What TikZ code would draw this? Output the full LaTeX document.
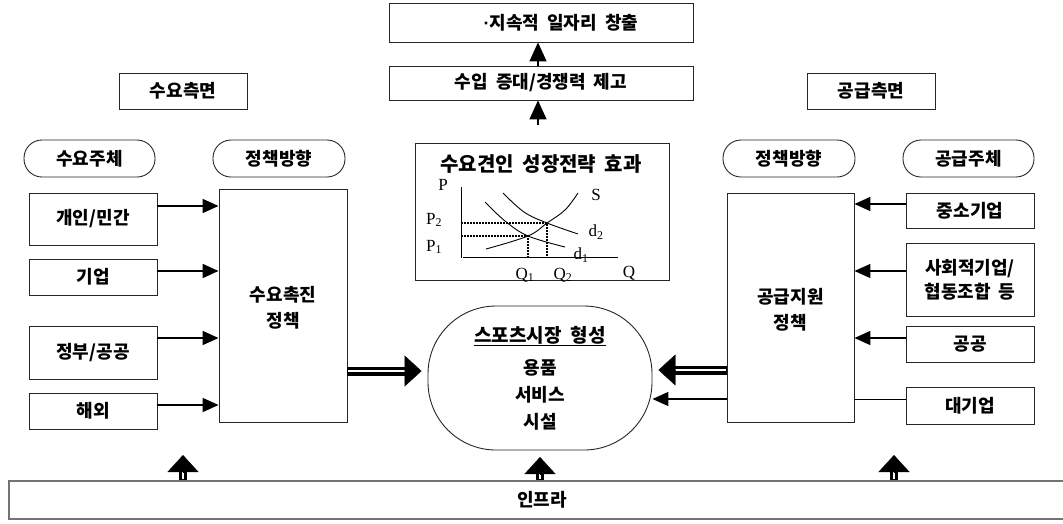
\documentclass[tikz,border=0pt]{standalone}
\usepackage{fontspec}
\setmainfont{Noto Sans CJK KR}
\newfontfamily\kr{Noto Sans CJK KR}
\newfontfamily\gser{Liberation Serif}
\newfontfamily\lsans{Liberation Sans}
\usetikzlibrary{arrows.meta,calc}
\tikzset{
  box/.style={draw=black!85, line width=0.9pt, inner sep=0pt, font=\kr\bfseries\fontsize{18}{21}\selectfont, align=center},
  pill/.style={box, rounded corners=18pt},
  arr/.style={line width=1.7pt, -{Triangle[length=16pt,width=14pt]}},
  bighead/.style={line width=0.4pt, -{Triangle[length=17pt,width=31pt]}},
  uarr/.style={line width=1.7pt, -{Triangle[length=19pt,width=17pt]}},
  lbl/.style={inner sep=0pt, font=\gser\fontsize{17}{19}\selectfont},
}
% #1 from, #2 to (tip), #3 total shaft width, #4 gap
\newcommand\dblarrow[4]{%
  \draw[line width=#3, shorten >=15pt] (#1) -- (#2);
  \draw[white, line width=#4, shorten >=12pt, shorten <=1pt] (#1) -- (#2);
  \draw[bighead] ($(#2)!17pt!(#1)$) -- (#2);
}
\begin{document}
\begin{tikzpicture}[x=1pt,y=-1pt]
\useasboundingbox (0,0) rectangle (1063,523);
% top boxes
\node[box, minimum width=304pt, minimum height=39pt] (top1) at (541,22.5) {\hspace*{40pt}{\lsans\bfseries·}지속적\hspace{4pt} 일자리\hspace{4pt} 창출};
\node[box, minimum width=304pt, minimum height=34pt] (top2) at (541,83) {수입\hspace{4pt} 증대/경쟁력\hspace{4pt} 제고};
\coordinate (tail) at (538,125);
\draw[uarr] (tail) -- (tail |- top2.south);
\draw[uarr] (tail |- top2.north) -- (tail |- top1.south);
% graph box
\node[box, minimum width=254pt, minimum height=137pt] (g) at (542,211.5) {};
\node[inner sep=0pt, font=\kr\bfseries\fontsize{20}{23}\selectfont] (gt) at (541,164) {수요견인\hspace{4pt} 성장전략\hspace{4pt} 효과};
\draw[line width=0.9pt] (461,187) -- (461,258);
\draw[line width=0.9pt] (463,257) -- (618,257);
\draw[line width=1.3pt, dash pattern=on 2pt off 1pt] (461,223) -- (547,223) -- (547,257);
\draw[line width=1.3pt, dash pattern=on 2pt off 1pt] (461,236) -- (528,236) -- (528,257);
\draw[line width=0.9pt] plot[smooth, tension=0.6] coordinates {(486,249) (528,236) (547,223) (565,210) (578,193)};
\draw[line width=0.9pt] plot[smooth, tension=0.6] coordinates {(485,202) (505,221) (528,236) (565,247)};
\draw[line width=0.9pt] plot[smooth, tension=0.6] coordinates {(503,193) (524,212) (547,223) (578,234)};
\node[lbl] (lP) at (443,185) {P};
\node[lbl] (lP2) at (434,220) {P\textsubscript{2}};
\node[lbl] (lP1) at (434,247) {P\textsubscript{1}};
\node[lbl] (lS) at (596,195) {S};
\node[lbl] (ld2) at (596,232) {d\textsubscript{2}};
\node[lbl] (ld1) at (581,255) {d\textsubscript{1}};
\node[lbl] (lQ1) at (525,275) {Q\textsubscript{1}};
\node[lbl] (lQ2) at (563,275) {Q\textsubscript{2}};
\node[lbl] (lQ) at (629,273) {Q};
% side labels
\node[box, minimum width=128pt, minimum height=36pt] (dside) at (183,91) {수요측면};
\node[box, minimum width=128pt, minimum height=36pt] (sside) at (871,91) {공급측면};
\node[pill, minimum width=131pt, minimum height=37pt] (dsubj) at (89.5,158.5) {수요주체};
\node[pill, minimum width=132pt, minimum height=37pt] (dpol) at (279,158.5) {정책방향};
\node[pill, minimum width=132pt, minimum height=37pt] (spol) at (789,158.5) {정책방향};
\node[pill, minimum width=131pt, minimum height=37pt] (ssubj) at (968.5,158.5) {공급주체};
% left items
\node[box, minimum width=128pt, minimum height=52pt] (d1) at (93,219) {개인/민간};
\node[box, minimum width=128pt, minimum height=36pt] (d2) at (93,277) {기업};
\node[box, minimum width=128pt, minimum height=53pt] (d3) at (93,352.5) {정부/공공};
\node[box, minimum width=128pt, minimum height=36pt] (d4) at (93,411) {해외};
\node[box, minimum width=128pt, minimum height=233pt] (lp) at (283,305.5) {\\[-2pt]수요촉진\\[5pt]정책};
% right items
\node[box, minimum width=128pt, minimum height=35pt] (s1) at (970,210.5) {중소기업};
\node[box, minimum width=128pt, minimum height=73pt] (s2) at (970,279.5) {사회적기업/\\[3pt]협동조합\hspace{4pt} 등};
\node[box, minimum width=128pt, minimum height=36pt] (s3) at (970,344) {공공};
\node[box, minimum width=128pt, minimum height=37pt] (s4) at (970,405.5) {대기업};
\node[box, minimum width=127pt, minimum height=229pt] (rp) at (790.5,307.5) {\\[-2pt]공급지원\\[5pt]정책};
% market
\node[box, rounded corners=68pt, minimum width=224pt, minimum height=144pt] (m) at (540,378) {{\fontsize{19}{21}\selectfont\underline{스포츠시장\hspace{5pt} 형성}}\\[11pt]용품\\[6pt]서비스\\[6pt]시설};
% infra
\node[box, draw=black!55, line width=1.6pt, minimum width=1066pt, minimum height=38pt] (inf) at (542,500) {인프라};
% left arrows
\coordinate (a1) at ($(d1.east)+(0,-13)$);
\coordinate (a2) at ($(d2.east)+(0,-6)$);
\coordinate (a3) at ($(d3.east)+(0,-14.5)$);
\coordinate (a4) at ($(d4.east)+(0,-6)$);
\foreach \a in {a1,a2,a3,a4} \draw[arr] (\a) -- (\a -| lp.west);
% right arrows
\coordinate (b1) at ($(s1.west)+(0,-6.5)$);
\coordinate (b2) at ($(s2.west)+(0,-8.5)$);
\coordinate (b3) at ($(s3.west)+(0,-6)$);
\coordinate (b4) at ($(s4.west)+(0,-6.5)$);
\foreach \b in {b1,b2,b3} \draw[arr] (\b) -- (\b -| rp.east);
\draw[line width=0.9pt] (b4) -- (b4 -| rp.east);
% double arrows to market
\coordinate (c1) at ($(lp.east)+(0,65.5)$);
\coordinate (c1t) at ($(c1 -| m.west)+(-6,0)$);
\dblarrow{c1}{c1t}{9pt}{2.6pt}
\coordinate (c2) at ($(rp.west)+(0,62.5)$);
\coordinate (c2t) at ($(c2 -| m.east)+(6,0)$);
\dblarrow{c2}{c2t}{9pt}{2.6pt}
\coordinate (c3) at ($(rp.west)+(0,91.5)$);
\draw[arr] (c3) -- (c3 -| m.east);
% up arrows from infra
\coordinate (u1) at (183,455);
\coordinate (u2) at (540,457);
\coordinate (u3) at (894,455);
\foreach \u in {u1,u2,u3} {\dblarrow{\u |- inf.north}{\u}{8pt}{2.4pt}}
\end{tikzpicture}
\end{document}
